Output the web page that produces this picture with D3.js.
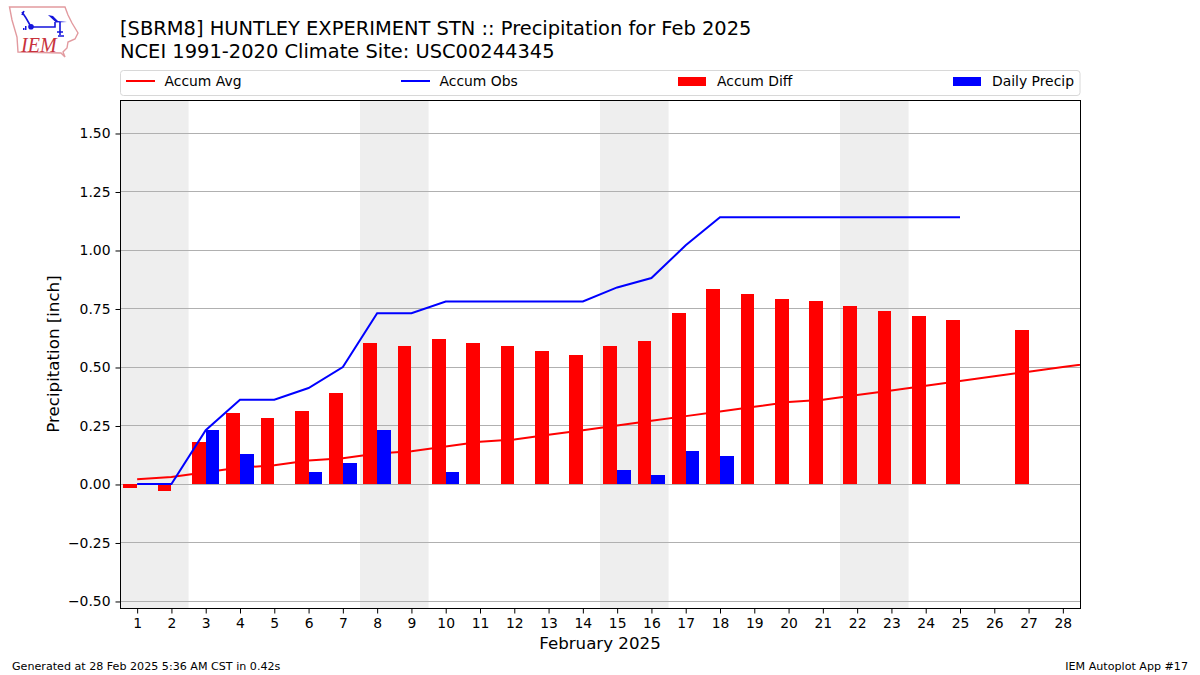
<!DOCTYPE html>
<html><head><meta charset="utf-8">
<script src="https://cdn.jsdelivr.net/npm/d3@7/dist/d3.min.js"></script>
<style>html,body{margin:0;padding:0;background:#fff}svg{display:block}text{font-family:"DejaVu Sans";fill:#000}</style>
</head><body><svg id="c" width="1200" height="675"></svg>
<script>
const days = d3.range(1, 29);
const tickYs = [-0.5, -0.25, 0, 0.25, 0.5, 0.75, 1, 1.25, 1.5];
const weekends = [[0.5, 2.5], [7.5, 9.5], [14.5, 16.5], [21.5, 23.5]];
const accumAvg = [0.02,0.03,0.05,0.07,0.08,0.10,0.11,0.13,0.14,0.16,0.18,0.19,0.21,0.23,0.25,0.27,0.29,0.31,0.33,0.35,0.36,0.38,0.40,0.42,0.44,0.46,0.48,0.50,0.52];
const accumObs = [0,0,0.23,0.36,0.36,0.41,0.50,0.73,0.73,0.78,0.78,0.78,0.78,0.78,0.84,0.88,1.02,1.14,1.14,1.14,1.14,1.14,1.14,1.14,1.14];
const accumDiff = [-0.017,-0.03,0.18,0.303,0.282,0.31,0.39,0.603,0.59,0.62,0.603,0.59,0.57,0.55,0.59,0.61,0.73,0.833,0.81,0.79,0.78,0.76,0.74,0.72,0.70,null,0.66,null];
const dailyPrecip = [0,0,0.23,0.13,0,0.05,0.09,0.23,0,0.05,0,0,0,0,0.06,0.04,0.14,0.12,0,0,0,0,0,0,0,0,0,0];
const titleLines = ["[SBRM8] HUNTLEY EXPERIMENT STN :: Precipitation for Feb 2025","NCEI 1991-2020 Climate Site: USC00244345"];
const legendItems = [["Accum Avg","line","#f00",126],["Accum Obs","line","#00f",401],["Accum Diff","bar","#f00",678],["Daily Precip","bar","#00f",953]];

const L=120,R=1080,T=100,B=608;
const x=d3.scaleLinear().domain([0.5,28.5]).range([L,R]);
const y=d3.scaleLinear().domain([-0.53,1.641]).range([B,T]);
const svg=d3.select("#c");
const defs=svg.append("defs");
defs.append("clipPath").attr("id","clip").append("rect").attr("x",L).attr("y",T).attr("width",R-L).attr("height",B-T);
const plot=svg.append("g").attr("clip-path","url(#clip)");
plot.selectAll("rect.wk").data(weekends).join("rect").attr("class","wk")
 .attr("x",d=>x(d[0])).attr("width",d=>x(d[1])-x(d[0])).attr("y",T).attr("height",B-T).attr("fill","#eeeeee");
plot.selectAll("line.g").data(tickYs).join("line").attr("class","g")
 .attr("x1",L).attr("x2",R).attr("y1",d=>Math.round(y(d))+0.5).attr("y2",d=>Math.round(y(d))+0.5).attr("stroke","#b0b0b0").attr("stroke-width",1);
const line=d3.line().x((d,i)=>x(i+1)).y(d=>y(d));
plot.append("path").attr("d",line(accumAvg)).attr("fill","none").attr("stroke","#f00").attr("stroke-width",2);
const dd=days.map((d,i)=>({d,v:accumDiff[i]})).filter(o=>o.v!==null);
const zero=Math.round(y(0));
plot.selectAll("rect.diff").data(dd).join("rect").attr("class","diff")
 .attr("x",o=>Math.round(x(o.d-0.4))).attr("width",o=>Math.round(x(o.d))-Math.round(x(o.d-0.4)))
 .attr("y",o=>Math.min(zero,Math.round(y(o.v)))).attr("height",o=>Math.abs(zero-Math.round(y(o.v))))
 .attr("fill","#f00");
const dp=days.map((d,i)=>({d,v:dailyPrecip[i]})).filter(o=>o.v>0);
plot.selectAll("rect.pr").data(dp).join("rect").attr("class","pr")
 .attr("x",o=>Math.round(x(o.d))).attr("width",o=>Math.round(x(o.d+0.4))-Math.round(x(o.d)))
 .attr("y",o=>Math.round(y(o.v))).attr("height",o=>zero-Math.round(y(o.v)))
 .attr("fill","#00f");
plot.append("path").attr("d",line(accumObs)).attr("fill","none").attr("stroke","#00f").attr("stroke-width",2);
svg.append("rect").attr("x",L+0.5).attr("y",T+0.5).attr("width",R-L).attr("height",B-T).attr("fill","none").attr("stroke","#000").attr("stroke-width",1);
const xa=svg.append("g").attr("transform",`translate(0,${B+0.5})`).call(d3.axisBottom(x).tickValues(days).tickFormat(d3.format("d")).tickSize(5).tickPadding(5).tickSizeOuter(0));
const ya=svg.append("g").attr("transform",`translate(${L+0.5},0.5)`).call(d3.axisLeft(y).tickValues(tickYs).tickFormat(d=>d3.format(".2f")(d).replace("-","\u2212")).tickSize(5).tickPadding(5).tickSizeOuter(0));
[xa,ya].forEach(a=>{a.select(".domain").remove();a.selectAll("text").style("font-family",'"DejaVu Sans"').style("font-size","13.9px").attr("fill","#000");a.selectAll("line").attr("stroke","#000");});
titleLines.forEach((t,i)=>svg.append("text").attr("x",120).attr("y",35+i*22.5).style("font-size","19.45px").text(t));
svg.append("text").attr("x",600).attr("y",649).attr("text-anchor","middle").style("font-size","16.67px").text("February 2025");
svg.append("text").attr("transform","translate(59,354) rotate(-90)").attr("text-anchor","middle").style("font-size","16.67px").text("Precipitation [inch]");
svg.append("text").attr("x",12).attr("y",670).style("font-size","11.11px").text("Generated at 28 Feb 2025 5:36 AM CST in 0.42s");
svg.append("text").attr("x",1188).attr("y",670).attr("text-anchor","end").style("font-size","11.11px").text("IEM Autoplot App #17");
svg.append("rect").attr("x",120.5).attr("y",70.5).attr("width",959.5).attr("height",25).attr("rx",3).attr("fill","#fff").attr("stroke","#d8d8d8");
legendItems.forEach(([t,k,c,lx])=>{
 if(k==="line") svg.append("line").attr("x1",lx).attr("x2",lx+29).attr("y1",81).attr("y2",81).attr("stroke",c).attr("stroke-width",2);
 else svg.append("rect").attr("x",lx).attr("y",77).attr("width",28).attr("height",9).attr("fill",c);
 svg.append("text").attr("x",lx+(k==="line"?38.5:39)).attr("y",86).style("font-size","13.9px").text(t);
});
// IEM logo
const logo=svg.append("g");
logo.append("path").attr("d","M9.5 7 L65 7 L68 15 L72 23 L78 33 L75 39 L68 42 L67 48 L63 52 L65 57 L61 53 L18 52 L17 37 L12 20 Z").attr("fill","none").attr("stroke","#e29a9f").attr("stroke-width",1.4);
logo.append("path").attr("d","M22 12 L26 18 L30 25 M22 15 L24 11 M33 27 L55 27 L55 22 M60 22 L60 35 M57 32 L63 32 M58 36 L64 36").attr("fill","none").attr("stroke","#1414dc").attr("stroke-width",1.6);
logo.append("path").attr("d","M48 15 L53 16 L58 21 L67 22 L56 22.5 Z").attr("fill","#1414dc");
logo.append("circle").attr("cx",31).attr("cy",26.7).attr("r",2.8).attr("fill","#1414dc");
logo.append("path").attr("d","M23 28 h1.5 v2 h-1.5 Z M25 26 h1.5 v4 h-1.5 Z").attr("fill","#1414dc");
logo.append("text").attr("x",21).attr("y",52).style("font-family","'Liberation Serif'").style("font-style","italic").style("font-size","20px").style("fill","#c8323c").text("IEM");
</script></body></html>
